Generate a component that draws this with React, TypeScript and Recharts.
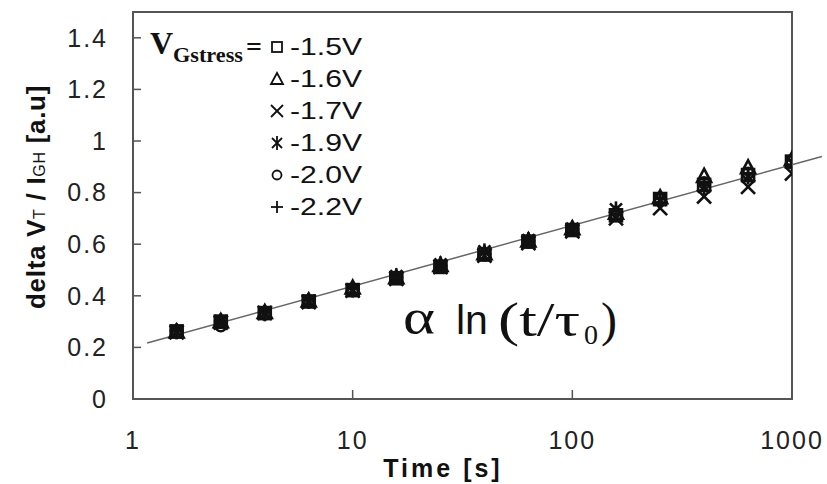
import {
  Customized,
  ReferenceArea,
  ReferenceLine,
  Scatter,
  ScatterChart,
  XAxis,
  YAxis,
} from "recharts";

type MarkerKind = "square" | "triangle" | "cross" | "star" | "circle" | "plus";

const times = [1.58, 2.51, 3.98, 6.31, 10, 15.8, 25.1, 39.8, 63.1, 100, 158, 251, 398, 631, 1000];

const v15 = [0.262, 0.3, 0.333, 0.378, 0.422, 0.468, 0.512, 0.56, 0.61, 0.655, 0.712, 0.775, 0.83, 0.868, 0.92];
const v16 = [0.262, 0.302, 0.337, 0.382, 0.432, 0.472, 0.52, 0.565, 0.615, 0.662, 0.722, 0.782, 0.865, 0.898, 0.93];
const v17 = [0.258, 0.296, 0.334, 0.376, 0.42, 0.466, 0.512, 0.556, 0.604, 0.65, 0.7, 0.74, 0.785, 0.822, 0.874];
const v19 = [0.262, 0.302, 0.332, 0.38, 0.424, 0.476, 0.522, 0.572, 0.616, 0.66, 0.735, 0.772, 0.822, 0.862, 0.915];
const v20 = [0.26, 0.284, 0.33, 0.378, 0.422, 0.47, 0.515, 0.558, 0.61, 0.655, 0.712, 0.775, 0.838, 0.875, 0.922];
const v22 = [0.265, 0.3, 0.334, 0.382, 0.426, 0.47, 0.516, 0.562, 0.612, 0.658, 0.716, 0.776, 0.832, 0.872, 0.925];

const seriesLabels = ["-1.5V", "-1.6V", "-1.7V", "-1.9V", "-2.0V", "-2.2V"];
const seriesMarkers: MarkerKind[] = ["square", "triangle", "cross", "star", "circle", "plus"];
const seriesValues = [v15, v16, v17, v19, v20, v22];

// end points of the fitted alpha*ln(t/tau0) line
const fitLine = [
  { x: 1.16, y: 0.217 },
  { x: 1368, y: 0.94 },
];

const xTicks = [1, 10, 100, 1000];
const yTicks = [0, 0.2, 0.4, 0.6, 0.8, 1, 1.2, 1.4];

const INK = "#111";
const AXIS = "#555";
const SANS = "'Liberation Sans', Arial, sans-serif";
const SERIF = "'Liberation Serif', 'Times New Roman', serif";

function Marker({ kind, cx, cy, big = false }: { kind: MarkerKind; cx: number; cy: number; big?: boolean }) {
  const s = big ? 6 : 5;
  const p = { stroke: INK, strokeWidth: big ? 2.6 : 1.8, fill: "none" };
  switch (kind) {
    case "square":
      return <rect x={cx - s} y={cy - s} width={2 * s} height={2 * s} {...p} />;
    case "triangle":
      return <polygon points={`${cx},${cy - s - 1} ${cx - s - 1},${cy + s} ${cx + s + 1},${cy + s}`} {...p} />;
    case "cross":
      return (
        <g {...p}>
          <line x1={cx - s - 1} y1={cy - s - 1} x2={cx + s + 1} y2={cy + s + 1} />
          <line x1={cx - s - 1} y1={cy + s + 1} x2={cx + s + 1} y2={cy - s - 1} />
        </g>
      );
    case "star":
      return (
        <g {...p}>
          <line x1={cx - s} y1={cy - s} x2={cx + s} y2={cy + s} />
          <line x1={cx - s} y1={cy + s} x2={cx + s} y2={cy - s} />
          <line x1={cx} y1={cy - s - 2} x2={cx} y2={cy + s + 2} />
        </g>
      );
    case "circle":
      return <circle cx={cx} cy={cy} r={s - 0.5} {...p} />;
    default:
      return (
        <g {...p}>
          <line x1={cx - s - 1} y1={cy} x2={cx + s + 1} y2={cy} />
          <line x1={cx} y1={cy - s - 1} x2={cx} y2={cy + s + 1} />
        </g>
      );
  }
}

function Overlay() {
  return (
    <g>
      {/* legend */}
      <text x={150} y={54} fontFamily={SERIF} fontWeight="bold" fontSize={32} fill={INK}>
        V
      </text>
      <text x={173} y={62} fontFamily={SERIF} fontWeight="bold" fontSize={20} fill={INK} textLength={70} lengthAdjust="spacingAndGlyphs">
        Gstress
      </text>
      <text x={246} y={56} fontFamily={SERIF} fontWeight="bold" fontSize={28} fill={INK}>
        =
      </text>
      {seriesLabels.map((label, i) => {
        const cy = 47 + i * 32;
        return (
          <g key={label}>
            <Marker kind={seriesMarkers[i]} cx={277} cy={cy} />
            <text x={290} y={cy + 8} fontFamily={SANS} fontSize={23} fill={INK} textLength={72} lengthAdjust="spacingAndGlyphs">
              {label}
            </text>
          </g>
        );
      })}

      {/* formula */}
      <text x={403} y={334} fontFamily={SERIF} fontSize={50} fill={INK} textLength={32} lengthAdjust="spacingAndGlyphs">
        α
      </text>
      <text x={456} y={334} fontFamily={SANS} fontSize={41} fill={INK}>
        ln
      </text>
      <text x={498} y={336} fontFamily={SERIF} fontSize={48} fill={INK} textLength={82} lengthAdjust="spacingAndGlyphs">
        (t/τ
      </text>
      <text x={584} y={344} fontFamily={SERIF} fontSize={28} fill={INK}>
        0
      </text>
      <text x={601} y={336} fontFamily={SERIF} fontSize={48} fill={INK}>
        )
      </text>

      {/* axis titles */}
      <text x={443} y={477} textAnchor="middle" fontFamily={SANS} fontWeight="bold" fontSize={25} fill={INK} letterSpacing={3}>
        Time [s]
      </text>
      <text
        x={0}
        y={0}
        transform="translate(45,197) rotate(-90)"
        textAnchor="middle"
        fontFamily={SANS}
        fontWeight="bold"
        fontSize={26}
        fill={INK}
        letterSpacing={0.7}
      >
        delta V<tspan fontSize={16} fontWeight="normal">T</tspan> / I<tspan fontSize={16} fontWeight="normal">GH</tspan> [a.u]
      </text>
    </g>
  );
}

export default function App() {
  const tickStyle = { fill: "#222", fontSize: 25, fontFamily: SANS, letterSpacing: 2 };
  return (
    <div style={{ position: "absolute", left: 0, top: 0, width: 827, height: 484, background: "#fff" }}>
      <ScatterChart width={827} height={484} margin={{ top: 12, right: 35, bottom: 0, left: 0 }}>
        <XAxis
          dataKey="t"
          type="number"
          scale="log"
          domain={[1, 1000]}
          ticks={xTicks}
          allowDataOverflow
          height={85}
          tickSize={-9}
          tickMargin={41}
          axisLine={{ stroke: AXIS, strokeWidth: 2 }}
          tickLine={{ stroke: AXIS, strokeWidth: 1.5 }}
          tick={tickStyle}
          interval={0}
        />
        <YAxis
          dataKey="v"
          type="number"
          domain={[0, 1.5]}
          ticks={yTicks}
          allowDataOverflow
          width={133}
          tickSize={-8}
          tickMargin={33}
          axisLine={{ stroke: AXIS, strokeWidth: 2 }}
          tickLine={{ stroke: AXIS, strokeWidth: 1.5 }}
          tick={tickStyle}
          interval={0}
        />
        <ReferenceArea x1={1} x2={1000} y1={0} y2={1.5} fill="none" stroke={AXIS} strokeWidth={2} ifOverflow="visible" />
        <ReferenceLine segment={fitLine} stroke="#666" strokeWidth={1.5} ifOverflow="visible" />
        {seriesValues.map((vals, i) => (
          <Scatter
            key={seriesLabels[i]}
            name={seriesLabels[i]}
            data={times.map((t, j) => ({ t, v: vals[j] }))}
            isAnimationActive={false}
            shape={(props: any) => <Marker kind={seriesMarkers[i]} cx={props.cx} cy={props.cy} big />}
          />
        ))}
        <Customized component={Overlay} />
      </ScatterChart>
    </div>
  );
}
